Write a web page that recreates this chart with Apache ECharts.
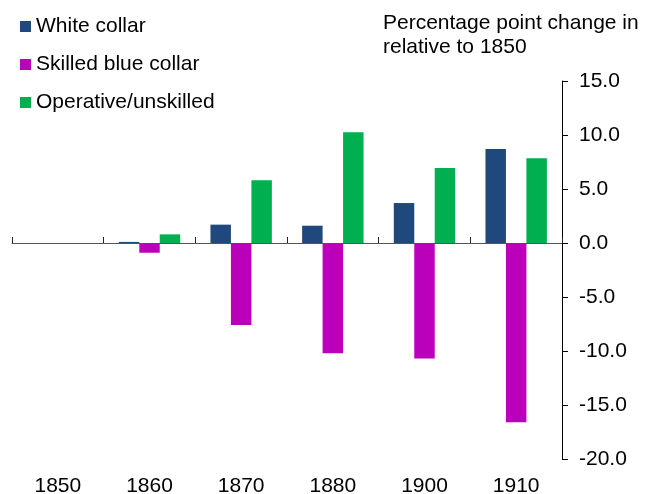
<!DOCTYPE html>
<html lang="en" style="height: 100%">

<head>
  <meta charset="utf-8">
</head>

<body style="height: 100%; margin: 0;">
  <div id="container" style="width: 646px; height: 494px;"></div>

  <script type="text/javascript" src="https://cdn.jsdelivr.net/npm/echarts@6/dist/echarts.min.js"></script>

  <script type="text/javascript">
    var years = ['1850', '1860', '1870', '1880', '1900', '1910'];
    var whiteCollar = [0, 0.1, 1.7, 1.6, 3.7, 8.7];
    var skilledBlue = [0, -0.9, -7.6, -10.2, -10.7, -16.6];
    var operative = [0, 0.8, 5.8, 10.25, 6.95, 7.85];

    var font = 'Liberation Sans, Arial, sans-serif';

    var dom = document.getElementById('container');
    var myChart = echarts.init(dom, null, { renderer: 'canvas' });

    var option = {
      animation: false,
      textStyle: { fontFamily: font },
      title: {
        text: 'Percentage point change in\nrelative to 1850',
        left: 383,
        top: 11,
        padding: 0,
        textStyle: {
          fontFamily: font,
          fontSize: 21,
          fontWeight: 'normal',
          color: '#000',
          lineHeight: 24
        }
      },
      legend: {
        orient: 'vertical',
        left: 20,
        top: 16,
        padding: 0,
        itemGap: 17,
        itemWidth: 11,
        itemHeight: 11,
        icon: 'rect',
        textStyle: { fontFamily: font, fontSize: 21, color: '#000' },
        data: ['White collar', 'Skilled blue collar', 'Operative/unskilled']
      },
      grid: { left: 12, right: 84, top: 81, bottom: 35, outerBoundsMode: 'none', containLabel: false },
      xAxis: [
        {
          type: 'category',
          data: years,
          axisLine: { onZero: true, lineStyle: { color: '#555', width: 1 } },
          axisTick: { show: true, inside: true, length: 6, lineStyle: { color: '#222' } },
          axisLabel: { show: false }
        },
        {
          type: 'category',
          data: years,
          position: 'bottom',
          axisLine: { show: false, onZero: false },
          axisTick: { show: false },
          axisLabel: { margin: 17, fontSize: 21, color: '#000', fontFamily: font }
        }
      ],
      yAxis: {
        type: 'value',
        position: 'right',
        min: -20,
        max: 15,
        interval: 5,
        splitLine: { show: false },
        axisLine: { show: true, lineStyle: { color: '#000' } },
        axisTick: { show: true, length: 6, lineStyle: { color: '#000' } },
        axisLabel: {
          margin: 17,
          fontSize: 21,
          color: '#000',
          fontFamily: font,
          formatter: function (v) { return v.toFixed(1); }
        }
      },
      series: [
        {
          name: 'White collar',
          type: 'bar',
          data: whiteCollar,
          barGap: '0%',
          barCategoryGap: '33%',
          itemStyle: { color: '#1F497D' }
        },
        {
          name: 'Skilled blue collar',
          type: 'bar',
          data: skilledBlue,
          itemStyle: { color: '#BB00BB' }
        },
        {
          name: 'Operative/unskilled',
          type: 'bar',
          data: operative,
          itemStyle: { color: '#00B050' }
        }
      ]
    };

    myChart.setOption(option);
    window.addEventListener('resize', myChart.resize);
  </script>
</body>

</html>
